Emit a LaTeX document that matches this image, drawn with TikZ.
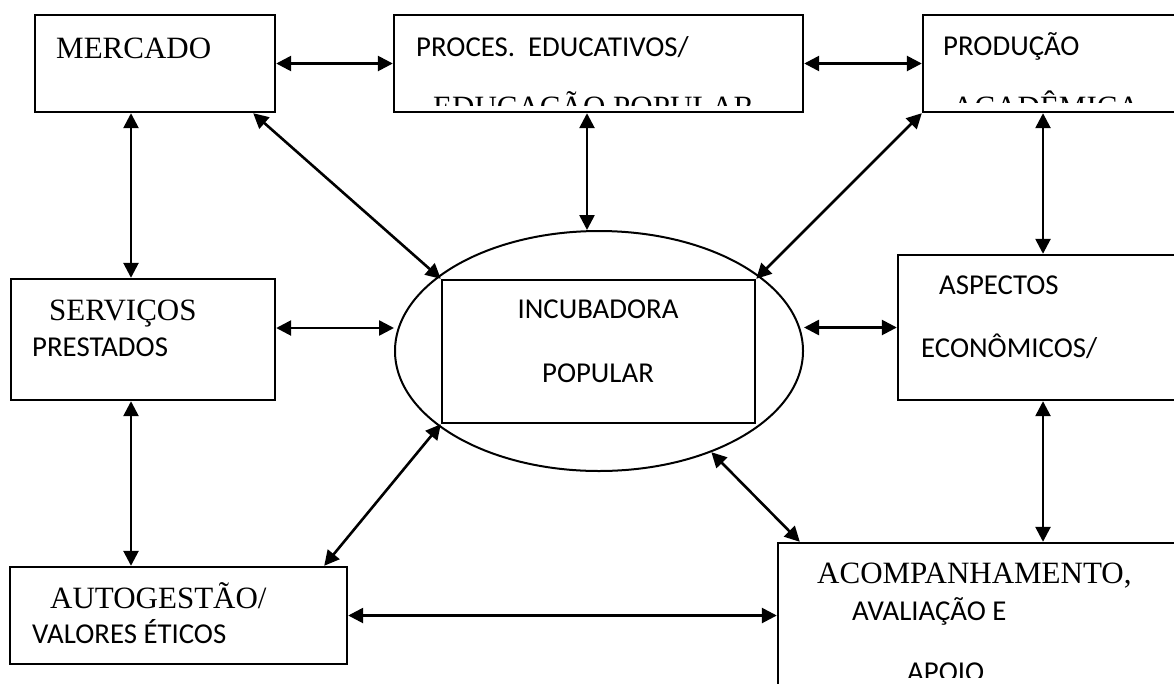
\documentclass[tikz,border=0pt]{standalone}
\usepackage{fontspec}
\setmainfont{Liberation Serif}
\newfontfamily\calibri{Carlito}
\usetikzlibrary{arrows.meta,shapes.geometric}

\tikzset{
	caixa/.style={draw, line width=2.4pt, inner sep=0pt},
	seta/.style={{Triangle[length=15pt,width=15pt]}-{Triangle[length=15pt,width=15pt]}, line width=2.6pt},
	txtserif/.style={anchor=base west, inner sep=0pt, font=\fontsize{31}{31}\selectfont},
	txtcal/.style={anchor=base west, inner sep=0pt, font=\calibri\fontsize{28.8}{28.8}\selectfont}
}

\begin{document}
\begin{tikzpicture}[x=1pt,y=-1pt]
		\useasboundingbox (0,0) rectangle (1174,683);
		\clip (0,0) rectangle (1174,683);
		\node[caixa, minimum width=240pt, minimum height=97pt] (mercado) at (155,63.5) {};
		\node[caixa, minimum width=409pt, minimum height=97pt] (proces) at (598.5,63.5) {};
		\node[caixa, minimum width=277pt, minimum height=97pt] (producao) at (1061.5,63.5) {};
		\node[caixa, minimum width=264pt, minimum height=121pt] (servicos) at (143,339.5) {};
		\node[caixa, minimum width=302pt, minimum height=145pt] (aspectos) at (1049,327.5) {};
		\node[caixa, minimum width=337pt, minimum height=97pt] (autog) at (178.5,615.5) {};
		\node[caixa, minimum width=422pt, minimum height=177pt] (acomp) at (989,631.5) {};
		\node[draw, ellipse, line width=2pt, inner sep=0pt, minimum width=408pt, minimum height=240pt] (elipse) at (599,351) {};
		\node[caixa, minimum width=313pt, minimum height=143pt] (incub) at (598.5,351.5) {};
		\coordinate (xesq) at (131,0);
		\coordinate (xdir) at (1043,0);
		\coordinate (xmeio) at (587,0);
		\coordinate (yserv) at (0,328);

		\node[txtserif] (t-mercado) at (56,58) {MERCADO};
		\node[txtcal] (t-proces) at (416,56) {PROCES.\ \ EDUCATIVOS/};
		\node[txtcal] (t-producao) at (943,55) {PRODUÇÃO};
		\node[txtserif] (t-servicos) at (49,320) {SERVIÇOS};
		\node[txtcal] (t-prestados) at (32,356) {PRESTADOS};
		\node[txtcal, anchor=base] (t-incub) at (598,318) {INCUBADORA};
		\node[txtcal, anchor=base] (t-popular) at (598,382) {POPULAR};
		\node[txtcal] (t-aspectos) at (939,294) {ASPECTOS};
		\node[txtcal] (t-econ) at (921,357) {ECONÔMICOS/};
		\node[txtserif] (t-autog) at (50,608) {AUTOGESTÃO/};
		\node[txtcal] (t-valores) at (32,643) {VALORES ÉTICOS};
		\node[txtserif] (t-acomp) at (817,583) {ACOMPANHAMENTO,};
		\node[txtcal] (t-avaliacao) at (852,620) {AVALIAÇÃO E};
		\begin{scope}
			\clip (proces.north west) rectangle ([yshift=8pt]proces.south east);
			\node[txtserif] (t-educacao) at (433,117) {EDUCAÇÃO POPULAR};
		\end{scope}
		\begin{scope}
			\clip (producao.north west) rectangle ([yshift=11pt]producao.south east);
			\node[txtserif] (t-academica) at (952,117) {ACADÊMICA};
		\end{scope}
		\begin{scope}
			\clip (acomp.north west) rectangle (1174,677);
			\node[txtcal] (t-apoio) at (907,681.5) {APOIO};
		\end{scope}

		\path[seta]
		(mercado) edge (proces)
		(proces) edge (producao)
		(mercado.south -| xesq) edge (servicos.north -| xesq)
		(servicos.south -| xesq) edge (autog.north -| xesq)
		(producao.south -| xdir) edge (aspectos.north -| xdir)
		(aspectos.south -| xdir) edge (acomp.north -| xdir)
		(proces.south -| xmeio) edge (elipse.north -| xmeio)
		(servicos.east |- yserv) edge (elipse.west |- yserv)
		(elipse.east |- aspectos.west) edge (aspectos.west)
		(autog.east) edge (acomp.west |- autog.east)
		([xshift=-23pt]mercado.south east) edge (incub.north west)
		(producao.south west) edge (incub.north east)
		(incub.south west) edge ([xshift=-24pt]autog.north east)
		(elipse.-42) edge ([xshift=23pt]acomp.north west);
	\end{tikzpicture}
\end{document}
